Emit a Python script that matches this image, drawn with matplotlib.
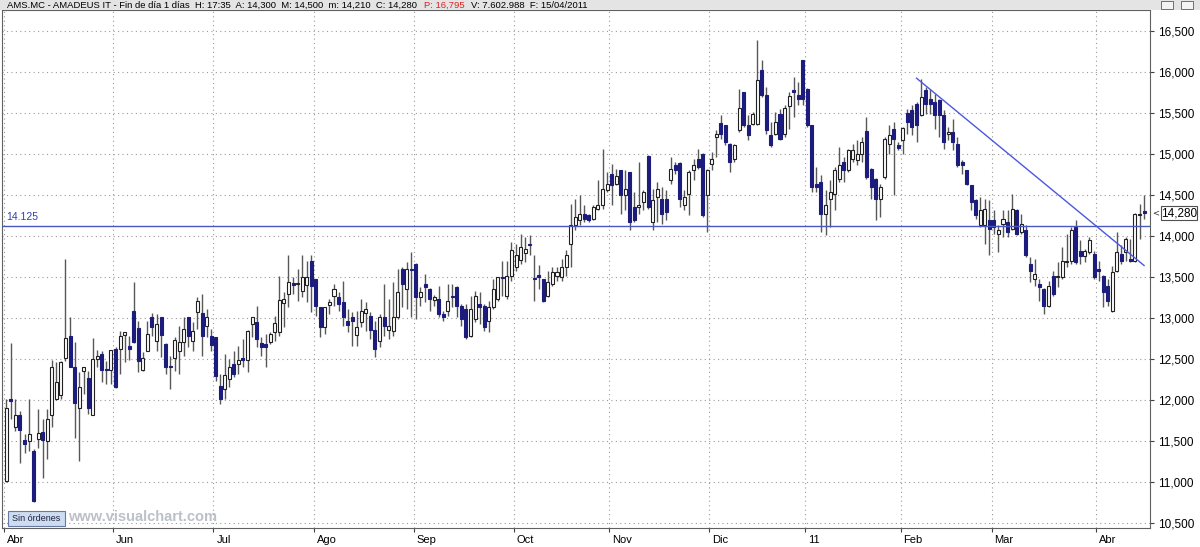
import matplotlib
matplotlib.use("Agg")
import matplotlib.pyplot as plt
from matplotlib.patches import Rectangle
from matplotlib.transforms import ScaledTranslation

# ---------------- data (daily OHLC, AMS.MC, 29/04/2010 - 15/04/2011) ----------------
opens = [11011, 12010, 11675, 11814, 11508, 11500, 11378, 11520, 11610, 11500,
         11814, 12010, 12058, 12507, 12784, 12405, 11899, 12356, 12266, 11814,
         12500, 12559, 12370, 12364, 12620, 12620, 12792, 12660, 13081, 12877,
         12364, 12600, 13008, 12722, 13008, 12681, 12416, 12510, 12600, 12702,
         13008, 12723, 13069, 13057, 12906, 12784, 12763, 12172, 12132, 12254,
         12437, 12437, 12510, 12486, 12926, 12955, 12690, 12682, 12702, 12824,
         12824, 13179, 13293, 13424, 13420, 13334, 13407, 13700, 13476, 13130,
         12894, 13163, 13273, 13252, 13199, 12967, 13016, 12796, 12947, 13057,
         13028, 12853, 12722, 13008, 12850, 12845, 13008, 13599, 13354, 13590,
         13660, 13261, 13416, 13354, 13220, 13232, 13049, 13090, 13273, 13375,
         13151, 13110, 12784, 12988, 13171, 13150, 12967, 13130, 13232, 13505,
         13273, 13517, 13619, 13701, 13790, 13904, 13480, 13525, 13476, 13273,
         13415, 13517, 13497, 13619, 13904, 14129, 14190, 14271, 14251, 14210,
         14332, 14373, 14557, 14760, 14638, 14801, 14495, 14781, 14353, 14353,
         14414, 14972, 14169, 14475, 14455, 14455, 14678, 14862, 14890, 14373,
         14515, 14801, 14943, 15004, 14495, 14882, 15208, 15379, 15351, 15127,
         14943, 15298, 15758, 15351, 15371, 15371, 16023, 15718, 15229, 15249,
         15494, 15249, 15583, 15779, 15718, 16146, 15799, 15351, 14638, 14658,
         14271, 14455, 14516, 14699, 14903, 14801, 14944, 14923, 15004, 15277,
         14821, 14699, 14454, 14719, 15118, 15310, 15106, 15167, 15501, 15534,
         15616, 15473, 15779, 15677, 15636, 15656, 15473, 15241, 15269, 15127,
         14903, 14801, 14617, 14434, 14128, 14128, 14190, 14190, 14018, 14149,
         14169, 14088, 14312, 14047, 14067, 13660, 13476, 13415, 13354, 13150,
         13517, 13496, 13496, 13680, 13700, 14108, 13814, 13761, 13802, 13782,
         13598, 13517, 13394, 13089, 13578, 13782, 13802, 13720, 13700, 14250,
         14300]
highs = [12010, 12700, 12010, 11867, 11580, 12010, 11400, 11887, 11765, 11887,
         12486, 12458, 12478, 13725, 13016, 12702, 12335, 12400, 12348, 12751,
         12610, 12600, 12480, 12610, 12640, 12845, 12830, 12783, 13435, 12967,
         12580, 12967, 13057, 13048, 13010, 12690, 12539, 12763, 12905, 13008,
         13010, 12947, 13252, 13293, 13110, 12865, 12770, 12315, 12560, 12498,
         12600, 12661, 12743, 12850, 13010, 13150, 12763, 12804, 12830, 13028,
         13517, 13313, 13762, 13497, 13599, 13762, 13700, 13762, 13480, 13135,
         13135, 13232, 13415, 13313, 13456, 13110, 13069, 13089, 13232, 13191,
         13069, 12967, 13048, 13416, 13232, 13436, 13599, 13619, 13680, 13803,
         13665, 13375, 13538, 13360, 13280, 13395, 13090, 13416, 13416, 13395,
         13171, 13171, 13273, 13334, 13313, 13171, 13212, 13476, 13500, 13700,
         13700, 13925, 13904, 14026, 13986, 14006, 13762, 13640, 13480, 13578,
         13619, 13619, 13721, 13823, 14393, 14455, 14495, 14373, 14271, 14373,
         14679, 15066, 14781, 14883, 14821, 14805, 14801, 14785, 14536, 14903,
         14557, 14984, 14577, 14658, 14597, 14557, 14964, 14903, 14903, 14556,
         14801, 14943, 15065, 15010, 14821, 15025, 15290, 15473, 15355, 15130,
         15127, 15799, 15760, 15473, 15514, 16390, 16145, 15820, 15392, 15514,
         15555, 15596, 15759, 15942, 15881, 16150, 15805, 15355, 14842, 14740,
         14557, 14679, 14842, 15086, 14964, 15066, 15127, 15168, 15208, 15453,
         14825, 14705, 14638, 15208, 15351, 15391, 15147, 15330, 15554, 15595,
         15636, 15921, 15820, 15799, 15738, 15677, 15534, 15330, 15432, 15208,
         14923, 14805, 14620, 14454, 14475, 14454, 14434, 14312, 14128, 14320,
         14312, 14516, 14332, 14271, 14128, 13741, 13721, 13476, 13360, 13456,
         13578, 13680, 13863, 14026, 14108, 14189, 13945, 13843, 13986, 13822,
         13700, 13520, 13476, 13639, 14047, 13884, 13986, 13965, 14275, 14393,
         14500]
lows = [11000, 11765, 11620, 11235, 11357, 11378, 10760, 11419, 11052, 11276,
        11675, 12000, 12010, 12480, 12400, 11541, 11256, 12071, 11826, 11810,
        12400, 12213, 12200, 12193, 12140, 12315, 12457, 12486, 12690, 12335,
        12356, 12600, 12783, 12600, 12518, 12315, 12131, 12356, 12315, 12539,
        12641, 12600, 12865, 12539, 12763, 12600, 12234, 11948, 12009, 12152,
        12274, 12315, 12397, 12335, 12763, 12641, 12539, 12397, 12680, 12722,
        12784, 12886, 13130, 13293, 13212, 13252, 13191, 13069, 13028, 12763,
        12804, 13048, 13150, 13089, 12906, 12824, 12661, 12661, 12886, 12845,
        12743, 12519, 12641, 12784, 12743, 12784, 12988, 13130, 13110, 13008,
        12988, 13151, 13191, 13089, 13150, 13008, 12967, 13028, 13130, 13008,
        12906, 12743, 12764, 12947, 12926, 12845, 12824, 13110, 13212, 13273,
        13232, 13456, 13578, 13660, 13680, 13762, 13212, 13354, 13191, 13252,
        13395, 13456, 13456, 13517, 13619, 14068, 14129, 14169, 14169, 14190,
        14312, 14332, 14536, 14373, 14618, 14271, 14312, 14068, 14169, 14271,
        14312, 14332, 14068, 14169, 14149, 14190, 14638, 14760, 14352, 14312,
        14250, 14678, 14821, 14230, 14047, 14801, 14964, 15188, 15106, 14780,
        14902, 15269, 15330, 15167, 15351, 15351, 15697, 15249, 15086, 15229,
        15168, 15208, 15310, 15453, 15596, 15596, 15330, 14536, 14536, 14047,
        14006, 14108, 14312, 14658, 14658, 14780, 14903, 14862, 14902, 14699,
        14454, 14189, 14230, 14700, 15004, 14495, 15045, 15004, 15249, 15228,
        15147, 15460, 15493, 15493, 15310, 15208, 15065, 15167, 15045, 14841,
        14760, 14617, 14312, 14210, 14108, 13904, 13762, 14026, 13802, 13986,
        13986, 14067, 14006, 14026, 13741, 13436, 13395, 13211, 13048, 13130,
        13272, 13374, 13476, 13619, 13659, 13659, 13659, 13680, 13782, 13476,
        13456, 13130, 13150, 13068, 13557, 13659, 13700, 13680, 13680, 13965,
        14210]
closes = [11907, 11990, 11814, 11635, 11459, 11581, 10767, 11602, 11508, 11765,
          12405, 12213, 12458, 12751, 12405, 11956, 12160, 12397, 11907, 12498,
          12530, 12364, 12360, 12608, 12152, 12783, 12824, 12620, 12702, 12470,
          12510, 12804, 12885, 12926, 12796, 12404, 12396, 12734, 12710, 12865,
          12783, 12845, 13212, 12784, 13016, 12670, 12295, 12009, 12307, 12397,
          12315, 12486, 12490, 12845, 13008, 12743, 12650, 12641, 12804, 12935,
          13220, 13232, 13436, 13407, 13425, 13505, 13505, 13395, 13150, 12894,
          13130, 13190, 13354, 13171, 13008, 12918, 12967, 12886, 13089, 13110,
          12853, 12621, 13016, 12906, 12900, 13008, 13314, 13416, 13599, 13580,
          13253, 13314, 13383, 13232, 13253, 13049, 13016, 13212, 13260, 13151,
          12988, 12764, 13110, 13273, 13130, 12886, 13130, 13354, 13497, 13489,
          13517, 13823, 13762, 13864, 13843, 13884, 13470, 13505, 13212, 13436,
          13558, 13558, 13619, 13762, 14128, 14230, 14271, 14210, 14190, 14353,
          14373, 14577, 14638, 14618, 14728, 14495, 14577, 14169, 14190, 14373,
          14536, 14353, 14434, 14577, 14271, 14292, 14821, 14801, 14454, 14475,
          14780, 14862, 14841, 14250, 14801, 14943, 15249, 15249, 15147, 14902,
          15106, 15567, 15351, 15228, 15493, 15901, 15717, 15290, 15107, 15392,
          15188, 15567, 15706, 15760, 15677, 15677, 15351, 14597, 14597, 14271,
          14373, 14536, 14801, 14862, 14801, 15045, 15045, 15005, 15147, 14719,
          14597, 14454, 14597, 15188, 15228, 15188, 15078, 15322, 15391, 15330,
          15351, 15697, 15616, 15616, 15473, 15473, 15147, 15269, 15147, 14862,
          14862, 14638, 14414, 14251, 14312, 14332, 14088, 14108, 14067, 14210,
          14047, 14332, 14026, 14149, 13762, 13578, 13537, 13375, 13150, 13394,
          13293, 13517, 13700, 13700, 14075, 13680, 13761, 13822, 13953, 13496,
          13578, 13313, 13211, 13557, 13802, 13700, 13965, 13700, 14271, 14271,
          14280]

month_labels = ["Abr", "Jun", "Jul", "Ago", "Sep", "Oct", "Nov", "Dic", "11", "Feb", "Mar", "Abr"]
month_first_idx = [0, 24, 46, 68, 90, 112, 133, 155, 176, 197, 217, 240]
price_ticks = [10500, 11000, 11500, 12000, 12500, 13000, 13500, 14000, 14500, 15000, 15500, 16000, 16500]
support_level = 14125
trend_idx = [200, 250]
trend_price = [15925, 13640]
last_close_label = "14,280"

# ---------------- figure ----------------
W, H = 1200, 547
fig = plt.figure(figsize=(W / 100, H / 100), dpi=100)
fig.patch.set_facecolor("white")

def fx(px):
    return px / W

def fy(py):
    return 1 - py / H

ax_left, ax_right, ax_top, ax_bot = 2, 1150, 10, 528
ax = fig.add_axes([fx(ax_left), fy(ax_bot), fx(ax_right - ax_left), (ax_bot - ax_top) / H])
ax.set_facecolor("white")

n = len(closes)
xs = list(range(n))
up_x = [i for i in xs if closes[i] >= opens[i]]
dn_x = [i for i in xs if closes[i] < opens[i]]

# wicks
ax.vlines(xs, lows, highs, color="#585858", linewidth=1.0, zorder=2)
# bodies
bw = 0.66
def body(i):
    lo = min(opens[i], closes[i])
    h = abs(closes[i] - opens[i])
    return lo, max(h, 12)

ax.bar(up_x, [body(i)[1] for i in up_x], bottom=[body(i)[0] for i in up_x], width=bw,
       color="white", edgecolor="#202020", linewidth=0.8, zorder=3)
ax.bar(dn_x, [body(i)[1] for i in dn_x], bottom=[body(i)[0] for i in dn_x], width=bw,
       color="#1c1c7c", edgecolor="#1c1c7c", linewidth=0.8, zorder=3)

# support line and trend line
ax.axhline(support_level, color="#4a58c0", linewidth=1.0, zorder=4)
ax.plot(trend_idx, trend_price, color="#4a58e0", linewidth=1.0, zorder=4)

ax.set_xlim(-0.95, 251.3)
ax.set_ylim(10437, 16757)

# grid / ticks
seps = [m - 0.5 for m in month_first_idx]
ax.set_xticks(seps)
ax.set_xticklabels(month_labels, ha="left", fontsize=8, family="Liberation Sans")
ax.tick_params(axis="x", direction="out", length=3, pad=2, color="#404040")
shift = ScaledTranslation(3 / 100, 0, fig.dpi_scale_trans)
for lbl in ax.get_xticklabels():
    lbl.set_transform(lbl.get_transform() + shift)
ax.yaxis.tick_right()
ax.set_yticks(price_ticks)
ax.set_yticklabels([f"{v:,}" for v in price_ticks], fontsize=8.5, family="Liberation Sans")
ax.tick_params(axis="y", direction="out", length=3, pad=2.5, color="#404040")
ax.grid(True, color="#9a9a9a", linestyle=(0, (1, 3)), linewidth=0.8, zorder=0)
ax.set_axisbelow(True)
for s in ax.spines.values():
    s.set_color("#606060")
    s.set_linewidth(0.8)

# level label
ax.text(0.004, support_level + 40, "14.125", transform=ax.get_yaxis_transform(),
        color="#3040b0", fontsize=7.5, family="Liberation Sans", va="bottom", ha="left")

# right-side last price box
ybox = 213
fig.patches.append(Rectangle((fx(1161), fy(ybox + 7)), fx(36), 14 / H, transform=fig.transFigure,
                             facecolor="white", edgecolor="#505050", linewidth=0.8))
fig.text(fx(1179), fy(ybox), last_close_label, fontsize=8.5, family="Liberation Sans",
         ha="center", va="center")
fig.text(fx(1156), fy(ybox), "<", fontsize=6, family="DejaVu Sans", ha="center", va="center",
         color="#303030")

# header bar
fig.patches.append(Rectangle((0, fy(ax_top)), 1, ax_top / H, transform=fig.transFigure,
                             facecolor="#e4e4e4", edgecolor="none"))
hdr_y = fy(5)
fig.text(fx(7), hdr_y,
         "AMS.MC - AMADEUS IT - Fin de día 1 días  H: 17:35  A: 14,300  M: 14,500  m: 14,210  C: 14,280",
         fontsize=6.8, family="Liberation Sans", va="center", ha="left")
fig.text(fx(424), hdr_y, "P: 16,795", fontsize=6.8, family="Liberation Sans", va="center",
         ha="left", color="#e02020")
fig.text(fx(471), hdr_y, "V: 7.602.988  F: 15/04/2011", fontsize=6.8, family="Liberation Sans",
         va="center", ha="left")
for bx in (1161, 1181):
    fig.patches.append(Rectangle((fx(bx), fy(9)), fx(12), 8 / H, transform=fig.transFigure,
                                 facecolor="#f4f4f4", edgecolor="#707070", linewidth=0.7))

# bottom-left widgets
fig.patches.append(Rectangle((fx(8), fy(526)), fx(57), 15 / H, transform=fig.transFigure,
                             facecolor="#cddcf0", edgecolor="#6878a0", linewidth=0.8))
fig.text(fx(36.5), fy(518.5), "Sin órdenes", fontsize=6.5, family="Liberation Sans",
         ha="center", va="center", color="#202040")
fig.text(fx(68), fy(517), "www.visualchart.com", fontsize=10.5, family="Liberation Sans",
         fontweight="bold", ha="left", va="center", color="#bcc0c8")

fig.savefig("out.png", dpi=100)
